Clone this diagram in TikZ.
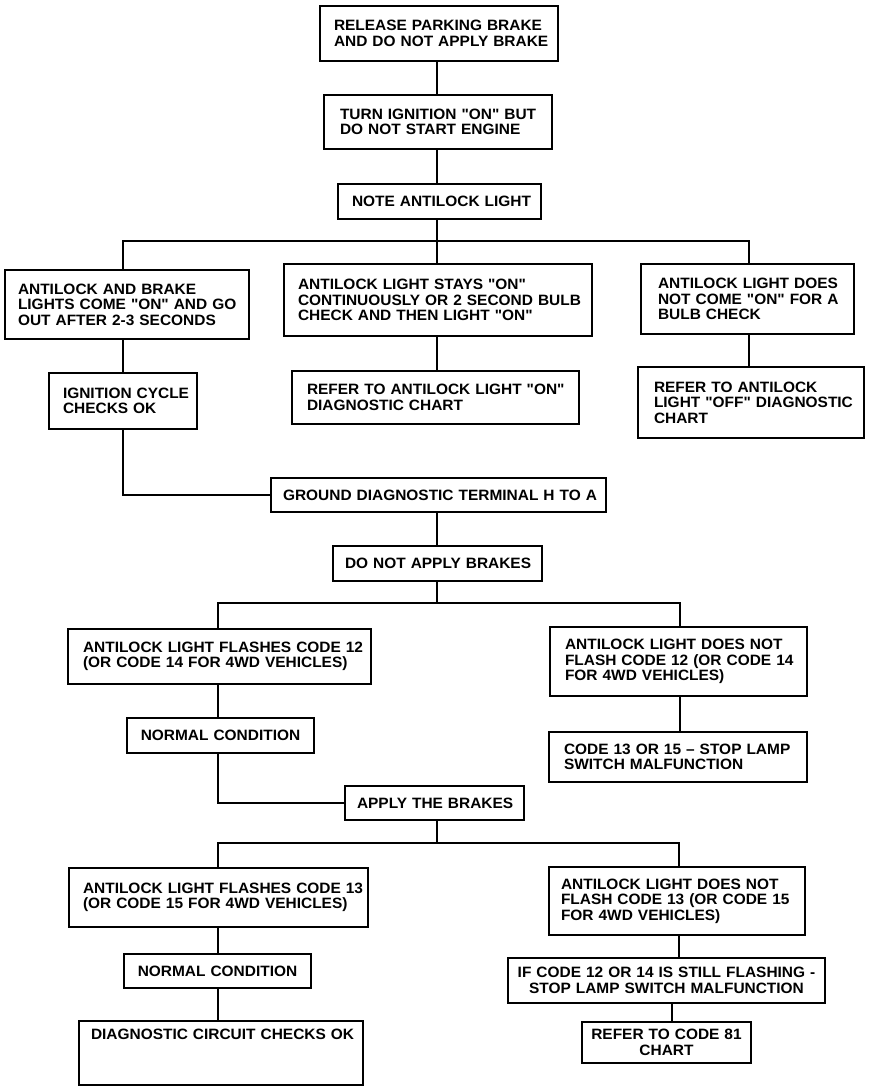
\documentclass[tikz,border=0pt]{standalone}
\usepackage{fontspec}
\setmainfont{Liberation Sans}[FakeStretch=1.03,Ligatures=TeXOff]
\newcommand\oneln[1]{\mbox{#1}}
\newcommand\qt{"}
\hbadness=10000 \hfuzz=100pt
\begin{document}
\begin{tikzpicture}[x=1pt,y=-1pt,
  every node/.style={font=\fontsize{15}{15.6}\selectfont\bfseries},
  box/.style={draw,line width=2pt,rectangle,anchor=north west,inner xsep=14pt,inner ysep=2pt,align=left},
  cbox/.style={box,align=center},
  wire/.style={line width=1.8pt}]
\useasboundingbox (0,0) rectangle (880,1088);
\node[box,minimum width=238pt,text width=210pt,minimum height=55pt] (b1) at (319,5) {\oneln{RELEASE PARKING BRAKE}\\\oneln{AND DO NOT APPLY BRAKE}};
\node[box,minimum width=228pt,text width=196pt,minimum height=54pt,inner xsep=16pt] (b2) at (323,94) {\oneln{TURN IGNITION \qt ON\qt\ BUT}\\\oneln{DO NOT START ENGINE}};
\node[cbox,minimum width=203pt,text width=175pt,minimum height=35pt] (b3) at (337,183) {\oneln{NOTE ANTILOCK LIGHT}};
\node[box,minimum width=244pt,text width=218pt,minimum height=69pt,inner xsep=13pt] (b4) at (4,269) {\oneln{ANTILOCK AND BRAKE}\\\oneln{LIGHTS COME \qt ON\qt\ AND GO}\\\oneln{OUT AFTER 2-3 SECONDS}};
\node[box,minimum width=308pt,text width=280pt,minimum height=72pt] (b5) at (283,263) {\oneln{ANTILOCK LIGHT STAYS \qt ON\qt}\\\oneln{CONTINUOUSLY OR 2 SECOND BULB}\\\oneln{CHECK AND THEN LIGHT \qt ON\qt}};
\node[box,minimum width=213pt,text width=179pt,minimum height=70pt,inner xsep=17pt] (b6) at (640,263) {\oneln{ANTILOCK LIGHT DOES}\\\oneln{NOT COME \qt ON\qt\ FOR A}\\\oneln{BULB CHECK}};
\node[box,minimum width=148pt,text width=120pt,minimum height=56pt] (b7) at (48,372) {\oneln{IGNITION CYCLE}\\\oneln{CHECKS OK}};
\node[box,minimum width=287pt,text width=257pt,minimum height=53pt,inner xsep=15pt] (b8) at (291,370) {\oneln{REFER TO ANTILOCK LIGHT \qt ON\qt}\\\oneln{DIAGNOSTIC CHART}};
\node[box,minimum width=226pt,text width=194pt,minimum height=71pt,inner xsep=16pt] (b9) at (637,366) {\oneln{REFER TO ANTILOCK}\\\oneln{LIGHT \qt OFF\qt\ DIAGNOSTIC}\\\oneln{CHART}};
\node[cbox,minimum width=335pt,text width=311pt,minimum height=34pt,inner xsep=12pt] (b10) at (270,477) {\oneln{GROUND DIAGNOSTIC TERMINAL H TO A}};
\node[cbox,minimum width=209pt,text width=185pt,minimum height=35pt,inner xsep=12pt] (b11) at (332,545) {\oneln{DO NOT APPLY BRAKES}};
\node[box,minimum width=303pt,text width=273pt,minimum height=55pt,inner xsep=15pt] (b12) at (67,628) {\oneln{ANTILOCK LIGHT FLASHES CODE 12}\\\oneln{(OR CODE 14 FOR 4WD VEHICLES)}};
\node[box,minimum width=257pt,text width=227pt,minimum height=69pt,inner xsep=15pt] (b13) at (549,626) {\oneln{ANTILOCK LIGHT DOES NOT}\\\oneln{FLASH CODE 12 (OR CODE 14}\\\oneln{FOR 4WD VEHICLES)}};
\node[cbox,minimum width=187pt,text width=163pt,minimum height=35pt,inner xsep=12pt] (b14) at (126,717) {\oneln{NORMAL CONDITION}};
\node[box,minimum width=258pt,text width=228pt,minimum height=50pt,inner xsep=15pt] (b15) at (548,731) {\oneln{CODE 13 OR 15 – STOP LAMP}\\\oneln{SWITCH MALFUNCTION}};
\node[cbox,minimum width=179pt,text width=155pt,minimum height=34pt,inner xsep=12pt] (b16) at (344,785) {\oneln{APPLY THE BRAKES}};
\node[box,minimum width=299pt,text width=271pt,minimum height=59pt] (b17) at (68,867) {\oneln{ANTILOCK LIGHT FLASHES CODE 13}\\\oneln{(OR CODE 15 FOR 4WD VEHICLES)}};
\node[box,minimum width=256pt,text width=232pt,minimum height=68pt,inner xsep=12pt] (b18) at (548,866) {\oneln{ANTILOCK LIGHT DOES NOT}\\\oneln{FLASH CODE 13 (OR CODE 15}\\\oneln{FOR 4WD VEHICLES)}};
\node[cbox,minimum width=187pt,text width=163pt,minimum height=34pt,inner xsep=12pt] (b19) at (123,953) {\oneln{NORMAL CONDITION}};
\node[cbox,minimum width=284pt,text width=260pt,inner xsep=12pt,inner ysep=8pt,text depth=38pt] (b20) at (78,1020) {\oneln{DIAGNOSTIC CIRCUIT CHECKS OK}};
\node[cbox,minimum width=317pt,text width=301pt,minimum height=45pt,inner xsep=8pt] (b21) at (507,957) {\oneln{IF CODE 12 OR 14 IS STILL FLASHING -}\\\oneln{STOP LAMP SWITCH MALFUNCTION}};
\node[cbox,minimum width=169pt,text width=153pt,minimum height=41pt,inner xsep=8pt] (b22) at (581,1021) {\oneln{REFER TO CODE 81}\\\oneln{CHART}};
% junctions
\coordinate (j1) at (437,241);
\coordinate (j2) at (437,603);
\coordinate (j3) at (437,843);
% connectors
\draw[wire] (b1.south -| j1) -- (b2.north -| j1);
\draw[wire] (b2.south -| j1) -- (b3.north -| j1);
\draw[wire] (b3.south -| j1) -- (j1);
\draw[wire] (b4.north -| 123,0) |- (j1) -| (b6.north -| 749,0);
\draw[wire] (j1) -- (b5.north -| j1);
\draw[wire] (b4.south -| 123,0) -- (b7.north -| 123,0);
\draw[wire] (b7.south -| 123,0) |- (b10.west);
\draw[wire] (b5.south -| j1) -- (b8.north -| j1);
\draw[wire] (b6.south -| 749,0) -- (b9.north -| 749,0);
\draw[wire] (b10.south -| j1) -- (b11.north -| j1);
\draw[wire] (b11.south -| j2) -- (j2);
\draw[wire] (b12.north -| 218,0) |- (j2) -| (b13.north -| 680,0);
\draw[wire] (b12.south -| 218,0) -- (b14.north -| 218,0);
\draw[wire] (b13.south -| 680,0) -- (b15.north -| 680,0);
\draw[wire] (b14.south -| 218,0) |- (b16.west);
\draw[wire] (b16.south -| j3) -- (j3);
\draw[wire] (b17.north -| 218,0) |- (j3) -| (b18.north -| 679,0);
\draw[wire] (b17.south -| 218,0) -- (b19.north -| 218,0);
\draw[wire] (b19.south -| 218,0) -- (b20.north -| 218,0);
\draw[wire] (b18.south -| 679,0) -- (b21.north -| 679,0);
\draw[wire] (b21.south -| 672,0) -- (b22.north -| 672,0);
\end{tikzpicture}
\end{document}
